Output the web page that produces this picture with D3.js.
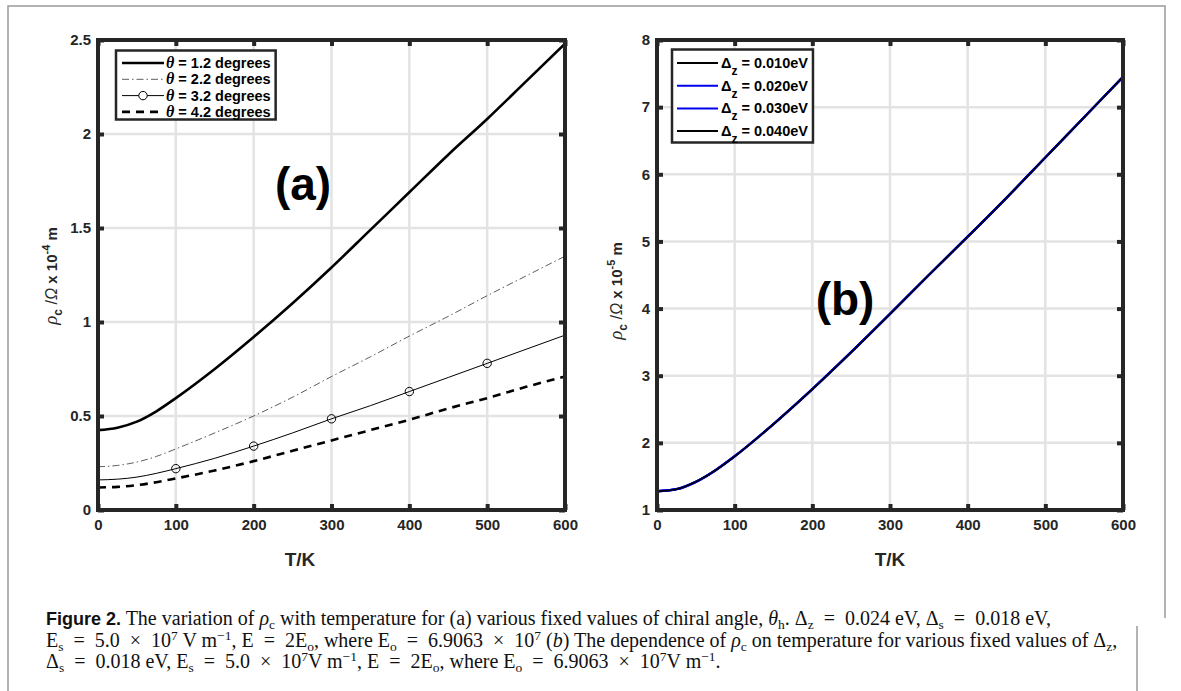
<!DOCTYPE html>
<html><head><meta charset="utf-8">
<script src="https://cdn.jsdelivr.net/npm/d3@7"></script>
<style>
html,body{margin:0;padding:0;background:#fff;}
svg{display:block;}
</style></head>
<body>
<svg id="c" width="1181" height="691"></svg>
<script>
// ---------- data ----------
const tempsA = [0,25,50,75,100,150,200,250,300,350,400,450,500,550,600];
const rhoTheta12 = [0.425,0.438,0.47,0.525,0.595,0.75,0.92,1.10,1.29,1.49,1.69,1.89,2.08,2.28,2.48];
const rhoTheta22 = [0.23,0.237,0.255,0.285,0.325,0.41,0.50,0.60,0.71,0.815,0.925,1.03,1.14,1.245,1.35];
const rhoTheta32 = [0.16,0.164,0.175,0.195,0.22,0.275,0.34,0.41,0.485,0.555,0.63,0.705,0.78,0.855,0.93];
const rhoTheta42 = [0.12,0.123,0.132,0.148,0.168,0.21,0.26,0.315,0.37,0.425,0.48,0.54,0.595,0.655,0.71];
const markerTemps = [100,200,300,400,500];
const markerRho32 = [0.22,0.34,0.485,0.63,0.78];
const legendA = ["\u03b8 = 1.2 degrees","\u03b8 = 2.2 degrees","\u03b8 = 3.2 degrees","\u03b8 = 4.2 degrees"];

const tempsB = [0,25,50,75,100,150,200,250,300,350,400,450,500,550,600];
const rhoDz010 = [1.28,1.31,1.42,1.59,1.8,2.28,2.8,3.35,3.92,4.5,5.07,5.65,6.25,6.85,7.45];
const rhoDz020 = [1.28,1.31,1.42,1.59,1.8,2.28,2.8,3.35,3.92,4.5,5.07,5.65,6.25,6.85,7.45];
const rhoDz030 = [1.28,1.31,1.42,1.59,1.8,2.28,2.8,3.35,3.92,4.5,5.07,5.65,6.25,6.85,7.45];
const rhoDz040 = [1.28,1.31,1.42,1.59,1.8,2.28,2.8,3.35,3.92,4.5,5.07,5.65,6.25,6.85,7.45];
const legendB = ["0.010eV","0.020eV","0.030eV","0.040eV"];

const xTicks = [0,100,200,300,400,500,600];
const yTicksA = [0,0.5,1,1.5,2,2.5];
const yTicksB = [1,2,3,4,5,6,7,8];

// ---------- drawing ----------
const svg = d3.select("#c");
const DARK = "#262626";
const GRID = "#e3e3e3";
const FONT = "Liberation Sans, Arial, sans-serif";
const SERIF = "Liberation Serif, Times New Roman, serif";
const EQ = "\u2002=\u2002", TIMES = "\u2002\u00d7\u2002";

// outer frame
svg.append("path").attr("d","M8,691 L8,6 L1165,6 L1165,618").attr("fill","none").attr("stroke","#9a9a9a").attr("stroke-width",1.5);
svg.append("line").attr("x1",1137).attr("x2",1137).attr("y1",626).attr("y2",691).attr("stroke","#9a9a9a").attr("stroke-width",1.5);

function panel(x, y, yTicks) {
  const g = svg.append("g");
  g.selectAll(".gx").data(xTicks).enter().append("line")
    .attr("x1",d=>x(d)).attr("x2",d=>x(d)).attr("y1",y.range()[0]).attr("y2",y.range()[1])
    .attr("stroke",GRID).attr("stroke-width",2.5);
  g.selectAll(".gy").data(yTicks).enter().append("line")
    .attr("y1",d=>y(d)).attr("y2",d=>y(d)).attr("x1",x.range()[0]).attr("x2",x.range()[1])
    .attr("stroke",GRID).attr("stroke-width",2.5);
}
function axes(x, y, yTicks, yFmt) {
  const g = svg.append("g");
  const [x0,x1] = x.range(), [y0,y1] = y.range();
  const gb = g.append("g").attr("transform",`translate(0,${y0})`)
    .call(d3.axisBottom(x).tickValues(xTicks).tickSize(-6).tickPadding(9).tickFormat(d3.format("d")));
  const gt = g.append("g").attr("transform",`translate(0,${y1})`)
    .call(d3.axisTop(x).tickValues(xTicks).tickSize(-6).tickFormat(""));
  const gl = g.append("g").attr("transform",`translate(${x0},0)`)
    .call(d3.axisLeft(y).tickValues(yTicks).tickSize(-6).tickPadding(7).tickFormat(yFmt));
  const gr = g.append("g").attr("transform",`translate(${x1},0)`)
    .call(d3.axisRight(y).tickValues(yTicks).tickSize(-6).tickFormat(""));
  [gb,gt,gl,gr].forEach(a=>{
    a.select(".domain").remove();
    a.selectAll(".tick line").attr("stroke",DARK).attr("stroke-width",4);
    a.selectAll(".tick text").attr("fill",DARK).style("font-family",FONT).style("font-weight","bold").style("font-size","15px");
  });
  g.append("rect").attr("x",x0).attr("y",y1).attr("width",x1-x0).attr("height",y0-y1)
    .attr("fill","none").attr("stroke",DARK).attr("stroke-width",4);
}
function yLabel(cx, cy, exp){
  const t = svg.append("text").attr("transform",`translate(${cx},${cy}) rotate(-90)`)
    .attr("text-anchor","middle").attr("fill",DARK).style("font-family",FONT).style("font-size","15px").style("font-weight","bold");
  t.append("tspan").text("\u03c1").style("font-family",SERIF).style("font-style","italic").style("font-weight","normal").style("font-size","19px");
  t.append("tspan").text("c").attr("dy",5).style("font-size","12px");
  t.append("tspan").text(" /").attr("dy",-5).style("font-weight","normal").style("font-size","16px");
  t.append("tspan").text("\u03a9").style("font-style","italic").style("font-weight","normal").style("font-size","16px");
  t.append("tspan").text("  x 10");
  t.append("tspan").text(exp).attr("dy",-7).style("font-size","11px");
  t.append("tspan").text(" m").attr("dy",7);
}
function xLabel(cx){
  svg.append("text").attr("x",cx).attr("y",566).attr("text-anchor","middle").attr("fill",DARK)
    .style("font-family",FONT).style("font-weight","bold").style("font-size","19px").text("T/K");
}

// ----- panel (a) -----
const xA = d3.scaleLinear().domain([0,600]).range([98,565]);
const yA = d3.scaleLinear().domain([0,2.5]).range([510,40]);
panel(xA, yA, yTicksA);
const lineA = d3.line().x(d=>xA(d[0])).y(d=>yA(d[1])).curve(d3.curveMonotoneX);
const seriesA = [
  {v:rhoTheta12, w:2.6, dash:null, col:"#000"},
  {v:rhoTheta22, w:0.8, dash:"7,3,1.5,3", col:"#333"},
  {v:rhoTheta32, w:1, dash:null, col:"#000"},
  {v:rhoTheta42, w:2.6, dash:"8,6", col:"#000"}
];
const gA = svg.append("g");
gA.append("defs").append("clipPath").attr("id","clipA").append("rect").attr("x",98).attr("y",40).attr("width",467).attr("height",470);
seriesA.forEach(s=>{
  gA.append("path").datum(tempsA.map((t,i)=>[t,s.v[i]])).attr("d",lineA)
    .attr("fill","none").attr("stroke",s.col).attr("stroke-width",s.w)
    .attr("stroke-dasharray",s.dash).attr("clip-path","url(#clipA)");
});
gA.selectAll(".mk").data(markerTemps.map((t,i)=>[t,markerRho32[i]])).enter().append("circle")
  .attr("cx",d=>xA(d[0])).attr("cy",d=>yA(d[1])).attr("r",4.2)
  .attr("fill","none").attr("stroke","#000").attr("stroke-width",1);
axes(xA, yA, yTicksA, d=>String(d));

// legend (a)
const lgA = svg.append("g");
const boxA = lgA.append("rect").attr("x",116).attr("y",50.5).attr("height",69)
  .attr("fill","#fff").attr("stroke",DARK).attr("stroke-width",2.5);
let maxA = 0;
legendA.forEach((txt,i)=>{
  const yy = 63 + i*16.3;
  const s = seriesA[i];
  lgA.append("line").attr("x1",122).attr("x2",164).attr("y1",yy).attr("y2",yy)
    .attr("stroke",s.col).attr("stroke-width",s.w).attr("stroke-dasharray",s.dash);
  if(i===2) lgA.append("circle").attr("cx",143).attr("cy",yy).attr("r",4.2).attr("fill","#fff").attr("stroke","#000");
  const t = lgA.append("text").attr("x",166).attr("y",yy+5).attr("fill","#000")
    .style("font-family",FONT).style("font-weight","bold").style("font-size","14.5px");
  t.append("tspan").text("\u03b8").style("font-family",SERIF).style("font-style","italic").style("font-size","16px");
  t.append("tspan").text(txt.slice(1));
  maxA = Math.max(maxA, t.node().getComputedTextLength());
});
boxA.attr("width", 166 + maxA + 5 - 116);

yLabel(57, 276, "-4");
xLabel(300);
svg.append("text").attr("x",303).attr("y",200).attr("text-anchor","middle").attr("fill","#000")
  .style("font-family",FONT).style("font-weight","bold").style("font-size","46px").text("(a)");

// ----- panel (b) -----
const xB = d3.scaleLinear().domain([0,600]).range([657,1123]);
const yB = d3.scaleLinear().domain([1,8]).range([510,40]);
panel(xB, yB, yTicksB);
const lineB = d3.line().x(d=>xB(d[0])).y(d=>yB(d[1])).curve(d3.curveMonotoneX);
const seriesB = [
  {v:rhoDz010, col:"#000", w:2},
  {v:rhoDz020, col:"#0000ee", w:2.4},
  {v:rhoDz030, col:"#0000ee", w:2.4},
  {v:rhoDz040, col:"#000", w:1.6}
];
const gB = svg.append("g");
gB.append("defs").append("clipPath").attr("id","clipB").append("rect").attr("x",657).attr("y",40).attr("width",466).attr("height",470);
seriesB.forEach(s=>{
  gB.append("path").datum(tempsB.map((t,i)=>[t,s.v[i]])).attr("d",lineB)
    .attr("fill","none").attr("stroke",s.col).attr("stroke-width",s.w).attr("clip-path","url(#clipB)");
});
axes(xB, yB, yTicksB, d=>String(d));

// legend (b)
const lgB = svg.append("g");
const boxB = lgB.append("rect").attr("x",672).attr("y",49.5).attr("height",93)
  .attr("fill","#fff").attr("stroke",DARK).attr("stroke-width",2.5);
let maxB = 0;
legendB.forEach((txt,i)=>{
  const yy = 63 + i*22.7;
  const s = seriesB[i];
  lgB.append("line").attr("x1",677).attr("x2",718).attr("y1",yy).attr("y2",yy)
    .attr("stroke",s.col).attr("stroke-width",2);
  const t = lgB.append("text").attr("x",721).attr("y",yy+5).attr("fill","#000")
    .style("font-family",FONT).style("font-weight","bold").style("font-size","14.5px");
  t.append("tspan").text("\u0394");
  t.append("tspan").text("z").attr("dy",7).style("font-size","12px");
  t.append("tspan").text(" = "+txt).attr("dy",-7);
  maxB = Math.max(maxB, t.node().getComputedTextLength());
});
boxB.attr("width", 721 + maxB + 5 - 672);

yLabel(622, 291, "-5");
xLabel(890);
svg.append("text").attr("x",845).attr("y",315).attr("text-anchor","middle").attr("fill","#000")
  .style("font-family",FONT).style("font-weight","bold").style("font-size","46px").text("(b)");

// ----- caption -----
function caption(y, parts){
  const t = svg.append("text").attr("x",46).attr("y",y).attr("fill","#111")
    .style("font-family",SERIF).style("font-size","20px");
  let base = 0;
  parts.forEach(p=>{
    const ts = t.append("tspan").text(p.t);
    const want = p.s==="sub"?4:(p.s==="sup"?-7:0);
    if(want!==base){ ts.attr("dy", want-base); base = want; }
    if(p.s) ts.style("font-size","13.5px");
    if(p.b) ts.style("font-weight","bold").style("font-family",FONT).style("font-size","18px");
    if(p.i) ts.style("font-style","italic");
  });
}
caption(625, [
  {t:"Figure 2.",b:1},{t:" The variation of "},{t:"\u03c1",i:1},{t:"c",s:"sub"},
  {t:" with temperature for (a) various fixed values of chiral angle, "},{t:"\u03b8",i:1},{t:"h",s:"sub"},
  {t:". \u0394"},{t:"z",s:"sub"},{t:EQ+"0.024 eV, \u0394"},{t:"s",s:"sub"},{t:EQ+"0.018 eV,"}
]);
caption(647, [
  {t:"E"},{t:"s",s:"sub"},{t:EQ+"5.0"+TIMES+"10"},{t:"7",s:"sup"},{t:" V m"},{t:"\u22121",s:"sup"},
  {t:", E"+EQ+"2E"},{t:"o",s:"sub"},{t:", where E"},{t:"o",s:"sub"},{t:EQ+"6.9063"+TIMES+"10"},{t:"7",s:"sup"},
  {t:" ("},{t:"b",i:1},{t:") The dependence of "},{t:"\u03c1",i:1},{t:"c",s:"sub"},
  {t:" on temperature for various fixed values of \u0394"},{t:"z",s:"sub"},{t:","}
]);
caption(668, [
  {t:"\u0394"},{t:"s",s:"sub"},{t:EQ+"0.018 eV, E"},{t:"s",s:"sub"},{t:EQ+"5.0"+TIMES+"10"},{t:"7",s:"sup"},{t:"V m"},{t:"\u22121",s:"sup"},
  {t:", E"+EQ+"2E"},{t:"o",s:"sub"},{t:", where E"},{t:"o",s:"sub"},{t:EQ+"6.9063"+TIMES+"10"},{t:"7",s:"sup"},{t:"V m"},{t:"\u22121",s:"sup"},{t:"."}
]);
</script>
</body></html>
